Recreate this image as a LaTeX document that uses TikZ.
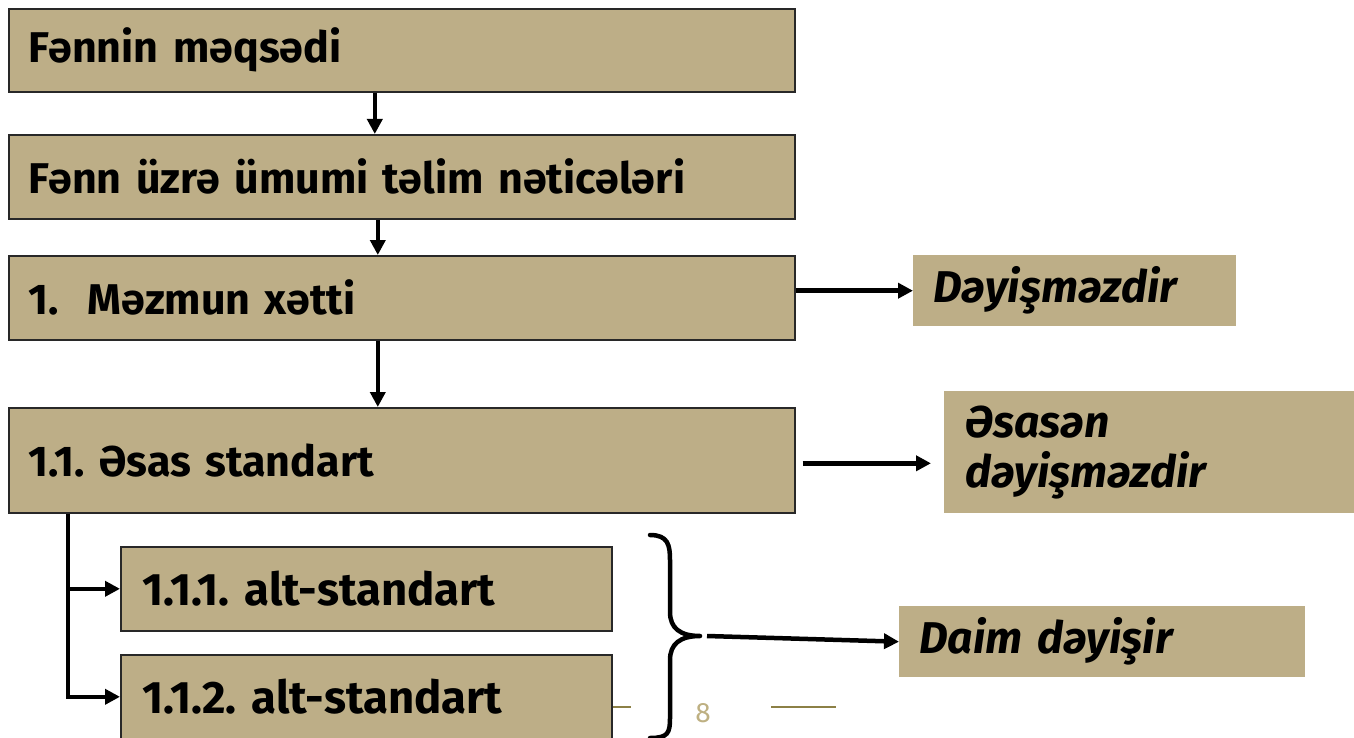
\documentclass[tikz,border=0pt]{standalone}
\usepackage{fontspec}
\setmainfont{Fira Sans}
\usetikzlibrary{arrows.meta}
\definecolor{tan}{RGB}{189,174,135}
\definecolor{edge}{RGB}{40,40,40}
\definecolor{olive}{RGB}{140,128,70}
\definecolor{pagenum}{RGB}{190,176,130}
\tikzset{
  box/.style={draw=edge, line width=1.6pt, fill=tan, anchor=north west, align=left,
    inner xsep=20pt, inner ysep=0pt, font=\fontsize{43}{48}\selectfont\bfseries},
  subbox/.style={box, inner xsep=22pt, font=\fontsize{45.5}{50}\selectfont\bfseries},
  note/.style={fill=tan, anchor=north west, align=left, inner xsep=20pt, inner ysep=0pt,
    font=\fontsize{44.5}{50}\selectfont\bfseries\itshape},
  arr/.style={line width=4.5pt, -{Triangle[length=15pt,width=15pt]}},
}
\frenchspacing
\begin{document}
\begin{tikzpicture}[x=1pt,y=-1pt]
\useasboundingbox (0,0) rectangle (1354,738);
% footer lines
\draw[olive, line width=2.5pt] (560,707) -- (631,707);
\draw[olive, line width=2.5pt] (771,707) -- (836,707);
\node[pagenum, font=\fontsize{28}{30}\selectfont, anchor=center] (pn) at (703,713) {8};
% main boxes
\node[box, text width=746pt, minimum height=83pt] (b1) at (8,8) {Fənnin məqsədi};
\node[box, text width=746pt, minimum height=84pt] (b2) at (8,134) {Fənn üzrə ümumi təlim nəticələri};
\node[box, text width=746pt, minimum height=84pt] (b3) at (8,255) {1.\ \ Məzmun xətti};
\node[box, text width=746pt, minimum height=105pt] (b4) at (8,407) {1.1. Əsas standart};
\node[subbox, text width=447pt, minimum height=84pt] (a1) at (120,546) {1.1.1. alt-standart};
\node[subbox, text width=447pt, minimum height=84pt] (a2) at (120,654) {1.1.2. alt-standart};
% notes
\node[note, text width=283pt, minimum height=71pt] (n1) at (913,255) {Dəyişməzdir};
\node[note, text width=368pt, minimum height=122pt, inner xsep=21pt] (n2) at (944,391) {Əsasən\\dəyişməzdir};
\node[note, text width=366pt, minimum height=71pt] (n3) at (899,606) {Daim dəyişir};
% connectors
\draw[arr] ([xshift=-27pt]b1.south) -- ([xshift=-27pt]b2.north);
\draw[arr] ([xshift=-24pt]b2.south) -- ([xshift=-24pt]b3.north);
\draw[arr] ([xshift=-24pt]b3.south) -- ([xshift=-24pt]b4.north);
\draw[arr] (b3.east |- n1.west) -- (n1.west);
\coordinate (e4) at ([xshift=7pt,yshift=-3pt]b4.east);
\coordinate (t2) at ([xshift=-13pt]n2.west |- e4);
\draw[arr] (e4) -- (t2);
\coordinate (v) at ([xshift=60pt]b4.south west);
\draw[arr] (v) |- (a1.west);
\draw[arr] (v) |- (a2.west);
% brace
\draw[line width=4.5pt, line join=round, line cap=round]
  (650,535) .. controls (668,535) and (670,545) .. (670,560)
  -- (670,612) .. controls (670,628) and (680,636) .. (700,636)
  coordinate (tip)
  .. controls (680,636) and (670,644) .. (670,660)
  -- (670,718) .. controls (670,733) and (668,738) .. (650,738);
\coordinate (bs) at (707,636);
\draw[arr] (bs) -- (n3.west);
\end{tikzpicture}
\end{document}
